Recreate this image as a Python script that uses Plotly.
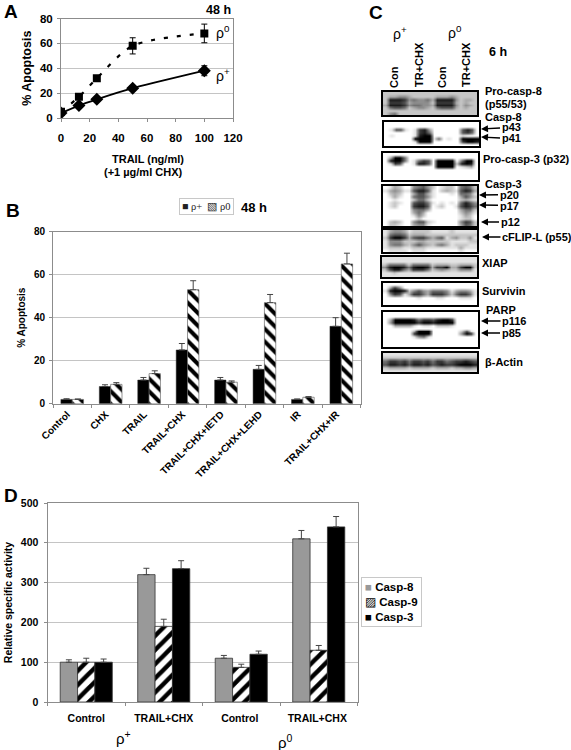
import plotly.graph_objects as go

W, H = 571, 750
FONT = "Liberation Sans"
SERIF = "Liberation Serif"

# ---- Panel A ----
trail_dose = [0, 12.5, 25, 50, 100]
rho_plus_dose = [4, 10, 15, 24, 38]
rho_plus_dose_err = [0, 1, 1.5, 2, 4]
rho_zero_dose = [5, 17, 32, 58, 68]
rho_zero_dose_err = [0, 0, 0, 6.5, 7.5]

# ---- Panel B ----
treatments = ["Control", "CHX", "TRAIL", "TRAIL+CHX", "TRAIL+CHX+IETD",
              "TRAIL+CHX+LEHD", "IR", "TRAIL+CHX+IR"]
b_rho_plus = [2, 8, 11, 25, 11, 16, 2, 36]
b_rho_plus_err = [0.3, 0.8, 1.2, 3, 1.2, 1.8, 0.2, 4]
b_rho_zero = [2, 9, 14, 53, 10, 47, 3, 65]
b_rho_zero_err = [0.2, 0.8, 1.3, 4.2, 0.6, 3.8, 0.3, 5]

# ---- Panel D ----
d_labels = ["Control", "TRAIL+CHX", "Control ", "TRAIL+CHX "]
casp8 = [100, 320, 110, 410]
casp8_err = [6, 16, 7, 21]
casp9 = [100, 190, 87, 130]
casp9_err = [10, 18, 8, 12]
casp3 = [100, 335, 120, 440]
casp3_err = [8, 20, 8, 26]

# ---- Panel C: band darkness read from the blots, 0 = white, 9 = black ----
blot_procasp8 = [
    "22222222222222222222",
    "23344322222333432222",
    "28887454453888842332",
    "27776344442777732322",
    "38887455443888842432",
    "25665234432566632322",
    "22222222222222222222",
    "24522222222222222222",
]
blot_casp8 = [
    "00000000000000000000",
    "00000000000000000000",
    "01661017830000006860",
    "00000017850000006750",
    "01000018990000001000",
    "00000099991501009999",
    "00000019990000007998",
    "00000000000000000000",
]
blot_procasp3 = [
    "00000000000000000000",
    "03995000000000000000",
    "08995015760999905990",
    "01760018860999928980",
    "00000000000999901230",
    "00000000000000000000",
    "00000000000000000000",
    "00000000000000000000",
    "00000000000000000000",
]
blot_casp3 = [
    "01320045642012205652",
    "13431168861023216873",
    "02320036631000105541",
    "01310056641000003642",
    "00100025520000002321",
    "01210067751010105864",
    "01200078860120016875",
    "00000045530000003552",
    "00000035300000002431",
    "00000014200000001320",
    "00000002000000001220",
    "02320046621000004762",
    "02210034410000003652",
]
blot_cflip = [
    "13443122221111211111",
    "15665233322222222222",
    "27997367753561342241",
    "14442223322222111122",
    "14553246432453122211",
    "12221122211111113111",
    "01111011100000001000",
]
blot_xiap = [
    "11111111111111111111",
    "11111111111111111111",
    "25555255552333223332",
    "48998589983779337992",
    "26885377752343224441",
    "11211111111111111111",
    "11111111111111111111",
]
blot_survivin = [
    "00000000000000000000",
    "03740000000000000000",
    "18998246435554134431",
    "04761377537775257751",
    "00000001000110001110",
    "00000000000000000000",
    "00000000000000000000",
]
blot_parp = [
    "00000000000000000000",
    "00000000000000000000",
    "03999985776899700000",
    "04999997998999900000",
    "00333310110222100000",
    "00000000000000000000",
    "00000039990000002610",
    "00000079990000004970",
    "00000014510000000000",
    "00000000000000000000",
    "00000000000000000000",
    "00000000000000000000",
]
blot_actin = [
    "11111111111111111111",
    "22222222222222222222",
    "57767577675775677876",
    "68878688786787789998",
    "23333233332333233443",
    "11111111111111111111",
]

fig = go.Figure()


def px_x(x):
    return x / W


def px_y(y):
    return 1 - y / H


def dom_x(a, b):
    return [px_x(a), px_x(b)]


def dom_y(top, bottom):
    return [px_y(bottom), px_y(top)]


GRID = "#c4c4c4"
AXIS = "#8c8c8c"

# ---------- A ----------
fig.add_trace(go.Scatter(
    x=trail_dose, y=rho_plus_dose, mode="lines+markers", xaxis="x", yaxis="y", name="ρ+",
    line=dict(color="black", width=1.8, shape="spline", smoothing=0.4),
    marker=dict(symbol="diamond", size=10, color="black"),
    error_y=dict(type="data", array=rho_plus_dose_err, color="black", thickness=1, width=3),
    showlegend=False))
fig.add_trace(go.Scatter(
    x=trail_dose, y=rho_zero_dose, mode="lines+markers", xaxis="x", yaxis="y", name="ρ0",
    line=dict(color="black", width=2.2, shape="spline", smoothing=0.8, dash="4px,9px"),
    marker=dict(symbol="square", size=8, color="black"),
    error_y=dict(type="data", array=rho_zero_dose_err, color="black", thickness=1, width=3),
    showlegend=False))

# ---------- B ----------
err_b = dict(type="data", color="#444444", thickness=1, width=3)
fig.add_trace(go.Bar(
    x=treatments, y=b_rho_plus, xaxis="x2", yaxis="y2", name="ρ+", showlegend=False,
    width=0.295, offset=-0.295,
    marker=dict(color="black", line=dict(color="#333333", width=0.5)),
    error_y=dict(err_b, array=b_rho_plus_err, arrayminus=[0] * 8)))
fig.add_trace(go.Bar(
    x=treatments, y=b_rho_zero, xaxis="x2", yaxis="y2", name="ρ0", showlegend=False,
    width=0.295, offset=0,
    marker=dict(color="white", line=dict(color="#666666", width=0.7),
                pattern=dict(shape="\\", size=9, solidity=0.45, fgcolor="black", bgcolor="white")),
    error_y=dict(err_b, array=b_rho_zero_err, arrayminus=[0] * 8)))

# ---------- D ----------
err_d = dict(type="data", color="#444444", thickness=1, width=3)
fig.add_trace(go.Bar(
    x=d_labels, y=casp8, xaxis="x3", yaxis="y3", name="Casp-8", showlegend=False,
    width=0.224, offset=-0.336,
    marker=dict(color="#999999", line=dict(color="#333333", width=0.8)),
    error_y=dict(err_d, array=casp8_err, arrayminus=[0] * 4)))
fig.add_trace(go.Bar(
    x=d_labels, y=casp9, xaxis="x3", yaxis="y3", name="Casp-9", showlegend=False,
    width=0.224, offset=-0.112,
    marker=dict(color="white", line=dict(color="#333333", width=0.8),
                pattern=dict(shape="/", size=10, solidity=0.45, fgcolor="black", bgcolor="white")),
    error_y=dict(err_d, array=casp9_err, arrayminus=[0] * 4)))
fig.add_trace(go.Bar(
    x=d_labels, y=casp3, xaxis="x3", yaxis="y3", name="Casp-3", showlegend=False,
    width=0.224, offset=0.112,
    marker=dict(color="black", line=dict(color="#333333", width=0.8)),
    error_y=dict(err_d, array=casp3_err, arrayminus=[0] * 4)))

# ---------- C blots ----------
blots = [
    (blot_procasp8, 383, 477, 92, 115),
    (blot_casp8, 384, 479, 122, 146),
    (blot_procasp3, 383, 478, 153, 180),
    (blot_casp3, 383, 477, 186, 226),
    (blot_cflip, 383, 477, 230, 252),
    (blot_xiap, 382, 477, 257, 277),
    (blot_survivin, 383, 477, 283, 305),
    (blot_parp, 383, 478, 312, 347),
    (blot_actin, 383, 477, 353, 372),
]

layout_axes = {}
for i, (rows, x0, x1, y0, y1) in enumerate(blots):
    n = i + 4
    fig.add_trace(go.Heatmap(
        z=[[int(c) for c in r] for r in rows],
        xaxis=f"x{n}", yaxis=f"y{n}", zmin=0, zmax=9, zsmooth="best", showscale=False,
        colorscale=[[0, "#ffffff"], [1, "#000000"]], hoverinfo="skip"))
    layout_axes[f"xaxis{n}"] = dict(domain=dom_x(x0, x1), anchor=f"y{n}", showticklabels=False,
                                    ticks="", showgrid=False, zeroline=False, showline=True,
                                    linecolor="black", linewidth=2, mirror=True, automargin=False)
    layout_axes[f"yaxis{n}"] = dict(domain=dom_y(y0, y1), anchor=f"x{n}", showticklabels=False,
                                    ticks="", showgrid=False, zeroline=False, showline=True,
                                    linecolor="black", linewidth=2, mirror=True,
                                    autorange="reversed", automargin=False)


# ---------- Text ----------
def label(x, y, text, size=11, bold=True, xanchor="left", angle=0, family=FONT, **kw):
    fig.add_annotation(
        xref="paper", yref="paper", x=px_x(x), y=px_y(y), xanchor=xanchor, yanchor="middle",
        text=f"<b>{text}</b>" if bold else text, showarrow=False, textangle=angle,
        font=dict(family=family, size=size, color="black"), **kw)


def arrow_label(tip_x, tip_y, text, text_center_x, text_y=None, size=11):
    text_y = tip_y if text_y is None else text_y
    fig.add_annotation(
        xref="paper", yref="paper", x=px_x(tip_x), y=px_y(tip_y), ax=text_center_x - tip_x,
        ay=text_y - tip_y, text=f"<b>{text}</b>", showarrow=True, arrowhead=2, arrowsize=1,
        arrowwidth=1.4, arrowcolor="black", font=dict(family=FONT, size=size, color="black"))


label(2, 11, "A", 19)
label(4, 210, "B", 19)
label(367, 12, "C", 19)
label(2, 495, "D", 19)

# A
label(233, 10, "48 h", 12.5, xanchor="right")
label(214, 32, "ρ<sup>0</sup>", 14, bold=False)
label(214, 75, "ρ<sup>+</sup>", 14, bold=False)
label(148, 159, "TRAIL (ng/ml)", 11, xanchor="center")
label(143, 172, "(+1 µg/ml CHX)", 11, xanchor="center")

# B
fig.add_annotation(
    xref="paper", yref="paper", x=px_x(206), y=px_y(206.5), xanchor="center", yanchor="middle",
    text="■ ρ+  ▧ ρ0", showarrow=False, bordercolor="#c8c8c8", borderwidth=1, borderpad=2,
    font=dict(family=SERIF, size=10.5, color="#222222"))
label(239, 207, "48 h", 13)

# C
label(400, 33, "ρ<sup>+</sup>", 14, bold=False, xanchor="center")
label(455, 32, "ρ<sup>0</sup>", 14, bold=False, xanchor="center")
label(394, 77, "Con", 11, xanchor="center", angle=-90)
label(419, 65, "TR+CHX", 11, xanchor="center", angle=-90)
label(442, 77, "Con", 11, xanchor="center", angle=-90)
label(466, 65, "TR+CHX", 11, xanchor="center", angle=-90)
label(487, 52, "6 h", 12.5)
label(483, 91, "Pro-casp-8")
label(483, 104, "(p55/53)")
label(483, 117, "Casp-8")
arrow_label(481, 129, "p43", 511, 127.5)
arrow_label(481, 137, "p41", 511, 138.5)
label(481, 159, "Pro-casp-3 (p32)")
label(483, 184, "Casp-3")
arrow_label(479, 195, "p20", 509, 194.5)
arrow_label(479, 205, "p17", 509, 205.5)
arrow_label(481, 222, "p12", 510)
arrow_label(482, 237, "cFLIP-L (p55)", 537)
label(480, 263, "XIAP")
label(480, 291, "Survivin")
label(484, 310, "PARP")
arrow_label(481, 321, "p116", 514)
arrow_label(481, 333, "p85", 511)
label(483, 362, "β-Actin")

# D
label(123, 737, "ρ<sup>+</sup>", 15, bold=False, xanchor="center")
label(285, 741, "ρ<sup>0</sup>", 15, bold=False, xanchor="center")
fig.add_annotation(
    xref="paper", yref="paper", x=px_x(391), y=px_y(602), xanchor="center", yanchor="middle",
    align="left",
    text="<span style='color:#999999'>■</span> <b>Casp-8</b><br>▨ <b>Casp-9</b><br>■ <b>Casp-3</b>",
    showarrow=False, bordercolor="#c8c8c8", borderwidth=1, borderpad=3,
    font=dict(family=FONT, size=11.5, color="black"))

tick_a = dict(family=FONT, size=11.5, color="black", weight="bold")
tick_b = dict(family=FONT, size=10, color="black", weight="bold")
tick_d = dict(family=FONT, size=10.5, color="black", weight="bold")

fig.update_layout(
    template="none",
    width=W, height=H, autosize=False, margin=dict(l=0, r=0, t=0, b=0, pad=0),
    paper_bgcolor="white", plot_bgcolor="white", barmode="group",
    hovermode=False, showlegend=False,
    xaxis=dict(domain=dom_x(61, 233), anchor="y", range=[0, 120], dtick=20, showgrid=False,
               zeroline=False, showline=True, linecolor=AXIS, mirror=True, ticks="outside",
               ticklen=3, tickcolor=AXIS, tickfont=tick_a, automargin=False,
               ticklabelstandoff=6),
    yaxis=dict(domain=dom_y(18.5, 118), anchor="x", range=[0, 80], dtick=20, showgrid=True,
               gridcolor=GRID, zeroline=False, showline=True, linecolor=AXIS, mirror=True,
               ticks="outside", ticklen=3, tickcolor=AXIS, tickfont=tick_a, automargin=False,
               ticklabelstandoff=2,
               title=dict(text="<b>% Apoptosis</b>", standoff=5,
                          font=dict(family=FONT, size=12.5, color="black"))),
    xaxis2=dict(domain=dom_x(53, 360.5), anchor="y2", showgrid=False, zeroline=False,
                showline=True, linecolor=AXIS, mirror=True, ticks="outside", ticklen=3,
                tickcolor=AXIS, tickson="boundaries", tickangle=-45, tickfont=tick_b,
                automargin=False, ticklabelshift=-5),
    yaxis2=dict(domain=dom_y(231.7, 403.7), anchor="x2", range=[0, 80], dtick=20, showgrid=True,
                gridcolor=GRID, zeroline=False, showline=True, linecolor=AXIS, mirror=True,
                ticks="outside", ticklen=3, tickcolor=AXIS, tickfont=tick_b, automargin=False,
                ticklabelstandoff=2,
                title=dict(text="<b>% Apoptosis</b>", standoff=6,
                           font=dict(family=FONT, size=10, color="black"))),
    xaxis3=dict(domain=dom_x(47.5, 357.5), anchor="y3", showgrid=False, zeroline=False,
                showline=True, linecolor=AXIS, mirror=True, ticks="outside", ticklen=3,
                tickcolor=AXIS, tickson="boundaries", tickfont=tick_d, tickangle=0,
                automargin=False, ticklabelstandoff=6),
    yaxis3=dict(domain=dom_y(503, 702), anchor="x3", range=[0, 500], dtick=100, showgrid=True,
                gridcolor=GRID, zeroline=False, showline=True, linecolor=AXIS, mirror=True,
                ticks="outside", ticklen=3, tickcolor=AXIS, tickfont=tick_d, automargin=False,
                ticklabelstandoff=3,
                title=dict(text="<b>Relative specific activity</b>", standoff=6,
                           font=dict(family=FONT, size=10.5, color="black"))),
    **layout_axes,
)

fig.write_html("out.html", config=dict(displayModeBar=False),
               post_script="document.body.style.margin='0';document.documentElement.style.overflow='hidden';")
